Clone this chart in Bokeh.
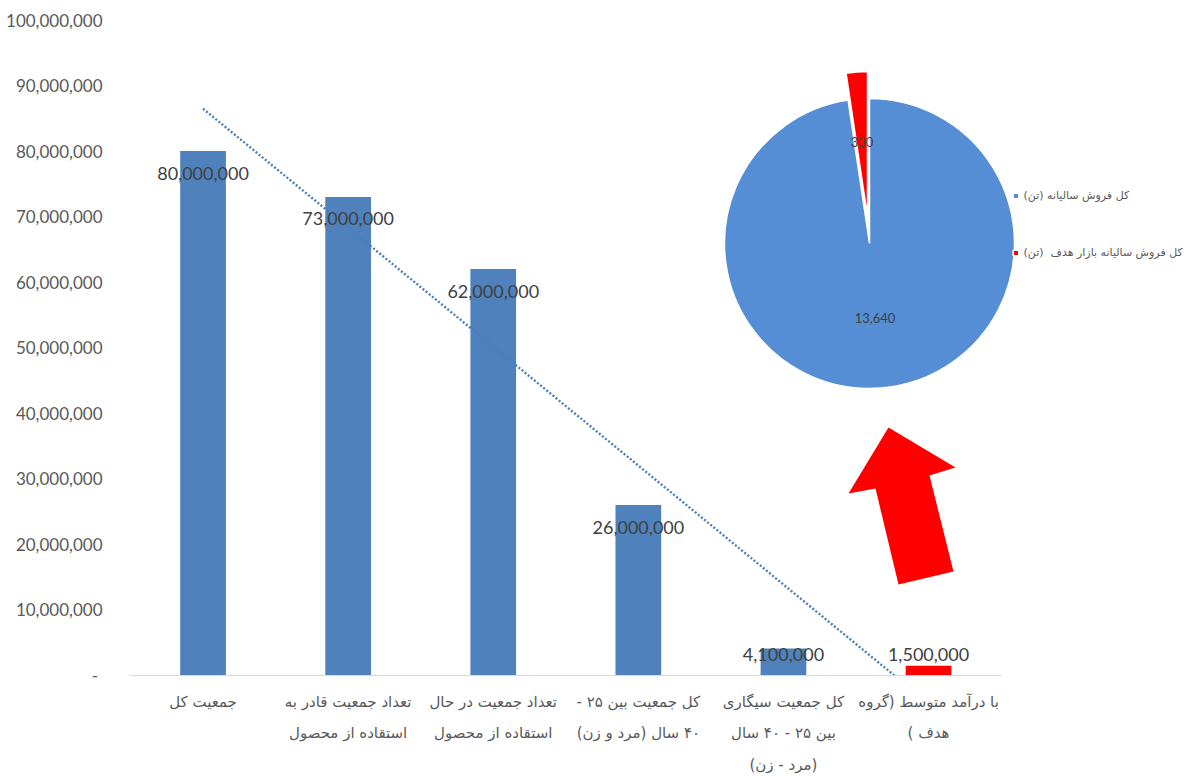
import numpy as np
from bokeh.plotting import figure
from bokeh.models import (Range1d, FixedTicker, NumeralTickFormatter, LinearAxis,
                          Legend, LegendItem)
from bokeh.core.properties import value
from bokeh.embed import file_html
from bokeh.resources import INLINE

# ---------------- data ----------------
categories = [
    ["جمعیت کل"],
    ["تعداد جمعیت قادر به", "استقاده از محصول"],
    ["تعداد جمعیت در حال", "استقاده از محصول"],
    ["کل جمعیت بین ۲۵ -", "۴۰ سال (مرد و زن)"],
    ["کل جمعیت سیگاری", "بین ۲۵ - ۴۰ سال", "(مرد - زن)"],
    ["با درآمد متوسط (گروه", "هدف )"],
]
populations = [80_000_000, 73_000_000, 62_000_000, 26_000_000, 4_100_000, 1_500_000]
bar_colors = ["#4F81BD", "#4F81BD", "#4F81BD", "#4F81BD", "#4F81BD", "#FF0000"]
y_ticks = [0, 10_000_000, 20_000_000, 30_000_000, 40_000_000, 50_000_000,
           60_000_000, 70_000_000, 80_000_000, 90_000_000, 100_000_000]

pie_labels = ["کل فروش سالیانه (تن)", "کل فروش سالیانه بازار هدف  (تن)"]
pie_values = [13640, 330]
pie_colors = ["#558ED5", "#FF0000"]

# ---------------- layout constants ----------------
W, H = 1187, 776
LEFT = 130            # canvas x of the category band start
BAND = 145.1          # px per category
BASE_Y = 675          # canvas y of value 0
PX_PER_UNIT = 6.555e-6
BAR_W = 0.315
LABEL_FLOOR = 6_560_000
PIE_CX, PIE_CY, PIE_R = 869, 243, 145
EXPLODE = 27
LABEL_R = 75
ARROW = [(888, 427), (955, 467), (929, 475), (953, 571), (898, 584), (875, 488), (848, 493)]


def rtl(s):
    return "\n".join("\u202b" + line + "\u202c" for line in s.split("\n"))


n = len(populations)
centers = [i + 0.5 for i in range(n)]

p = figure(width=W, height=H,
           x_range=Range1d(0, (W - LEFT) / BAND),
           y_range=Range1d(-(H - BASE_Y) / PX_PER_UNIT, BASE_Y / PX_PER_UNIT),
           x_axis_type=None, y_axis_type=None,
           output_backend="svg", toolbar_location=None,
           min_border_left=LEFT, min_border_right=0, min_border_top=0, min_border_bottom=0,
           outline_line_color=None, background_fill_color="white", border_fill_color="white")
p.extra_x_ranges = {"px": Range1d(LEFT, W)}
p.extra_y_ranges = {"px": Range1d(0, H)}

# y axis
yaxis = LinearAxis(ticker=FixedTicker(ticks=y_ticks),
                   formatter=NumeralTickFormatter(format="0,0"),
                   major_label_overrides={0: "-\u00a0"},
                   axis_line_color=None, major_tick_line_color=None, minor_tick_line_color=None,
                   major_label_standoff=22,
                   major_label_text_font="Lato", major_label_text_font_size="17px",
                   major_label_text_color="#595959")
p.add_layout(yaxis, "left")

# x axis (category labels)
xaxis = LinearAxis(ticker=FixedTicker(ticks=centers),
                   major_label_overrides={c: rtl("\n".join(lbl)) for c, lbl in zip(centers, categories)},
                   fixed_location=0, bounds=(0, n),
                   axis_line_color="#D9D9D9", axis_line_width=1,
                   major_tick_line_color=None, minor_tick_line_color=None,
                   major_label_standoff=11,
                   major_label_text_font="DejaVu Sans", major_label_text_font_size="15px",
                   major_label_text_color="#595959",
                   major_label_text_line_height=1.75)
p.add_layout(xaxis, "below")

# bars
p.vbar(x=centers, top=populations, bottom=0, width=BAR_W, fill_color=bar_colors, line_color=None)

# linear trend line (least squares on category index), clipped at 0
idx = np.arange(1, n + 1)
slope, intercept = np.polyfit(idx, populations, 1)
x_end = min(-intercept / slope, n)
t_x = np.array([1.0, x_end])
p.line(x=t_x - 0.5, y=slope * t_x + intercept, line_color="#4A7EBB", line_width=2.4,
       line_dash="2 2")

# data labels
p.text(x=centers, y=np.maximum(populations, LABEL_FLOOR),
       text=[f"{v:,}" for v in populations], y_offset=22,
       text_align="center", text_baseline="middle",
       text_font=value("Lato"), text_font_size="18px", text_color="#404040")

# pie chart (pixel-placed overlay)
total = sum(pie_values)
cum = 0.0
wx, wy, sa, ea, lx, ly = [], [], [], [], [], []
for i, v in enumerate(pie_values):
    frac = v / total
    start_cw = cum * 360
    end_cw = (cum + frac) * 360
    cum += frac
    a_start = np.deg2rad(90 - end_cw)
    a_end = np.deg2rad(90 - start_cw)
    mid = (a_start + a_end) / 2
    off = EXPLODE if i == 1 else 0
    cx = PIE_CX + off * np.cos(mid)
    cy = (H - PIE_CY) + off * np.sin(mid)
    wx.append(cx); wy.append(cy); sa.append(a_start); ea.append(a_end)
    lx.append(cx + LABEL_R * np.cos(mid)); ly.append(cy + LABEL_R * np.sin(mid))

wedges = p.wedge(x=wx, y=wy, radius=PIE_R, radius_units="screen",
                 start_angle=sa, end_angle=ea, fill_color=pie_colors,
                 line_color="white", line_width=1.5,
                 x_range_name="px", y_range_name="px")
p.text(x=lx, y=ly, text=[f"{v:,}" for v in pie_values], text_align="center",
       text_baseline="middle", text_font=value("Lato"), text_font_size="13px",
       text_color="#404040", x_range_name="px", y_range_name="px")

legend = Legend(items=[LegendItem(label=rtl(lbl), renderers=[wedges], index=i)
                       for i, lbl in enumerate(pie_labels)],
                location=(881.5, 514), orientation="vertical",
                border_line_color=None, background_fill_alpha=0,
                glyph_width=7, glyph_height=7, label_height=20, label_standoff=5,
                spacing=37, padding=0, margin=0,
                label_text_font="DejaVu Sans", label_text_font_size="11px",
                label_text_color="#595959")
p.add_layout(legend)

# decorative arrow
p.patch(x=[a[0] for a in ARROW], y=[H - a[1] for a in ARROW], fill_color="#FF0000",
        line_color=None, x_range_name="px", y_range_name="px")

open("out.html", "w").write(file_html(p, INLINE))
